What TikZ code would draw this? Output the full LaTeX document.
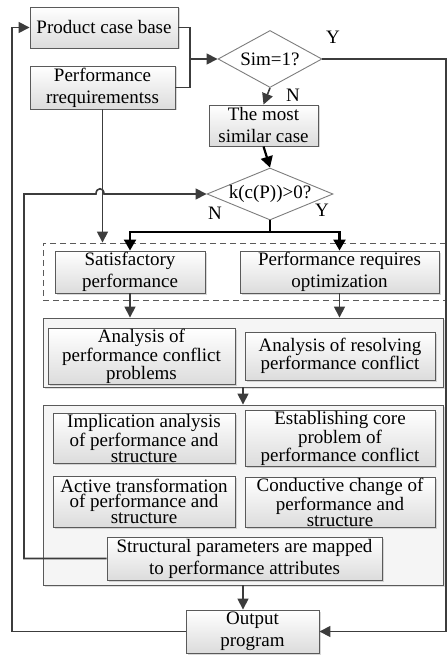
\documentclass[tikz,border=0pt]{standalone}
\usepackage{fontspec}
\setmainfont{Liberation Serif}
\usetikzlibrary{shapes.geometric,arrows.meta,shadows}
\definecolor{line_grey}{RGB}{60,60,60}
\definecolor{box_edge}{RGB}{90,90,90}
\definecolor{box_low}{RGB}{220,220,220}
\definecolor{group_fill}{RGB}{245,245,245}
\definecolor{dia_edge}{RGB}{125,125,125}

\tikzset{
	stepbox/.style={rectangle,draw=box_edge,line width=0.9pt,top color=white,bottom color=box_low,inner sep=1pt,align=center,
		font=\fontsize{19}{22}\selectfont,drop shadow={fill=black!30,shadow xshift=1.5pt,shadow yshift=-1.5pt}},
	tightbox/.style={stepbox,font=\fontsize{19}{14.5}\selectfont},
	groupbox/.style={rectangle,draw=box_edge,line width=0.9pt,fill=group_fill,inner sep=0pt,
		drop shadow={fill=black!25,shadow xshift=2pt,shadow yshift=-2pt}},
	decision/.style={diamond,draw=dia_edge,line width=0.9pt,fill=white,inner sep=0pt,font=\fontsize{19}{22}\selectfont},
	tag/.style={inner sep=0pt,font=\fontsize{19}{22}\selectfont},
	link/.style={draw=line_grey,line width=1.6pt},
	flow/.style={link,-{Triangle[length=11pt,width=11pt]}},
	mainflow/.style={draw=black,line width=2.2pt,-{Triangle[length=11pt,width=12pt]}}
}

\begin{document}
\begin{tikzpicture}[x=1pt,y=-1pt]
	\useasboundingbox (0,0) rectangle (447,655);

	% groups
	\node[rectangle,draw=box_edge,line width=0.9pt,dash pattern=on 6pt off 4pt,minimum width=403pt,minimum height=57pt] (dash) at (244.5,271.5) {};
	\node[groupbox,minimum width=400pt,minimum height=69pt] (cont1) at (243,352.5) {};
	\node[groupbox,minimum width=400pt,minimum height=180pt] (cont2) at (243,495) {};

	% top part
	\node[stepbox,minimum width=148pt,minimum height=41pt] (case) at (104,27.5) {Product case base};
	\node[stepbox,minimum width=145pt,minimum height=43pt] (req) at (102.5,87.5) {Performance\\rrequirementss};
	\node[decision,minimum width=104pt,minimum height=57pt,aspect=1.82] (sim) at (270,59) {Sim=1?};
	\node[stepbox,minimum width=109pt,minimum height=41pt] (similar) at (263.5,125.5) {The most\\similar case};
	\node[decision,minimum width=126pt,minimum height=52pt,aspect=2.42] (kcp) at (270,194) {k(c(P))>0?};

	\node[tag] (simY) at (333,37) {Y};
	\node[tag] (simN) at (293,95) {N};
	\node[tag] (kcpN) at (215,213) {N};
	\node[tag] (kcpY) at (322,210) {Y};

	% middle part
	\node[stepbox,minimum width=150pt,minimum height=42pt] (sat) at (130,272) {Satisfactory\\performance};
	\node[stepbox,minimum width=199pt,minimum height=42pt] (opt) at (339.5,272) {Performance requires\\optimization};
	\node[tightbox,minimum width=187pt,minimum height=47pt] (conf) at (141.5,356.5) {Analysis of\\performance conflict\\problems};
	\node[tightbox,minimum width=190pt,minimum height=48pt] (resol) at (340,356) {Analysis of resolving\\performance conflict};

	% lower part
	\node[tightbox,minimum width=182pt,minimum height=47pt] (impl) at (144,438.5) {Implication analysis\\of performance and\\structure};
	\node[tightbox,minimum width=190pt,minimum height=47pt] (core) at (340,438.5) {Establishing core\\problem of\\performance conflict};
	\node[tightbox,minimum width=182pt,minimum height=51pt] (active) at (144,501.5) {Active transformation\\of performance and\\structure};
	\node[tightbox,minimum width=190pt,minimum height=49pt] (conduct) at (340,502.5) {Conductive change of\\performance and\\structure};
	\node[stepbox,minimum width=275pt,minimum height=43pt] (struct) at (244.5,558.5) {Structural parameters are mapped\\to performance attributes};
	\node[stepbox,minimum width=133pt,minimum height=43pt] (out) at (252.5,631.5) {Output\\program};

	\coordinate (join) at (190,59);
	\coordinate (split) at (270,232);
	\coordinate (looptop) at (12,27.5);
	\coordinate (rightbot) at (446,631.5);
	\coordinate (fbtop) at (24,194);
	\coordinate (hopA) at (96,194);
	\coordinate (hopB) at (104,194);

	% connectors
	\draw[link] (case.east) -| (join);
	\draw[link] (req.east) -| (join);
	\draw[flow] (join) -- (sim.west);
	\draw[flow] (sim.south) -- (similar.north);
	\draw[mainflow] (similar.south) -- (kcp.north);
	\draw[flow] (sim.east) -| (rightbot) -- (out.east);
	\draw[flow] (out.west) -| (looptop) -- (case.west);
	\draw[flow] (req.south) -- (req.south |- dash.north);
	\draw[flow] (struct.west) -| (fbtop) -- (hopA) .. controls +(0,-7) and +(0,-7) .. (hopB) -- (kcp.west);
	\draw[mainflow] (kcp.south) -- (split) -| (sat.north);
	\draw[mainflow] (split) -| (opt.north);
	\draw[flow] (sat.south) -- (sat.south |- cont1.north);
	\draw[flow] (opt.south) -- (opt.south |- cont1.north);
	\draw[flow] (cont1.south) -- (cont2.north);
	\draw[flow] (cont2.south) -- (cont2.south |- out.north);
\end{tikzpicture}
\end{document}
